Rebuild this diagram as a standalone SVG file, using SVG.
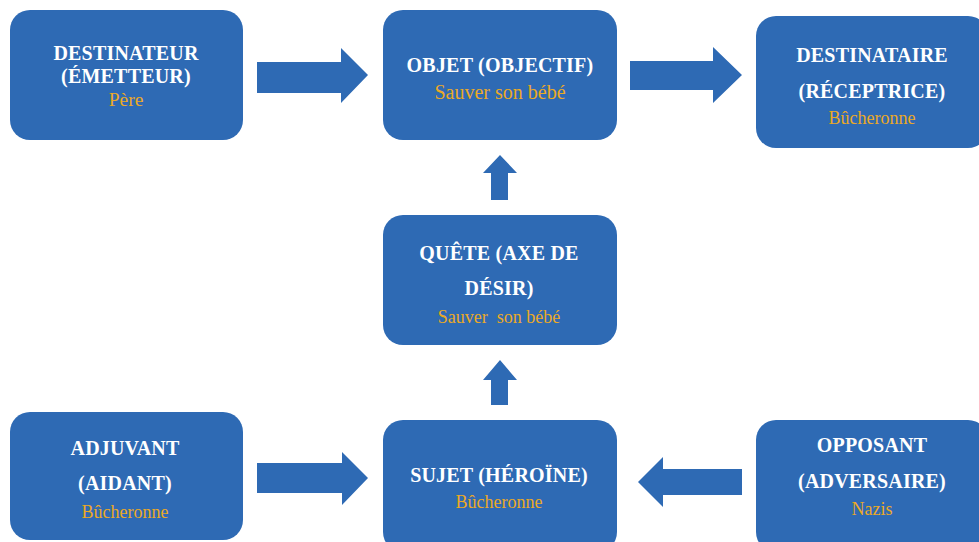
<svg xmlns="http://www.w3.org/2000/svg" width="979" height="542" viewBox="0 0 979 542">
<style>
.box{fill:#2E6AB4;}
.arr{fill:#2E6AB4;}
.t{font-family:"Liberation Serif","Times New Roman",serif;font-weight:bold;fill:#FFFFFF;text-anchor:middle;font-size:20px;letter-spacing:0.2px;}
.s{font-family:"Liberation Serif","Times New Roman",serif;fill:#EBA925;text-anchor:middle;font-size:18px;}
</style>
<rect width="979" height="542" fill="#FFFFFF"/>
<g id="connectors">
<polygon class="arr" points="257,62 341,62 341,48 368,75 341,103 341,93 257,93"/>
<polygon class="arr" points="630,61 713,61 713,47 742,75 713,103 713,90 630,90"/>
<polygon class="arr" points="257,463 342,463 342,452 368,478 342,505 342,493 257,493"/>
<polygon class="arr" points="742,469 663,469 663,457 638,482 663,507 663,495 742,495"/>
<polygon class="arr" points="491,200 491,173 483,173 500,155 517,173 508,173 508,200"/>
<polygon class="arr" points="491,405 491,380 483,380 500,360 517,380 508,380 508,405"/>
</g>
<g id="destinateur">
<rect class="box" x="10" y="10" width="233" height="130" rx="20"/>
<text class="t" x="126" y="60">DESTINATEUR</text>
<text class="t" x="126" y="83">(ÉMETTEUR)</text>
<text class="s" x="126" y="106" style="font-size:19.5px">Père</text>
</g>
<g id="objet">
<rect class="box" x="383" y="10" width="234" height="130" rx="20"/>
<text class="t" x="500" y="72">OBJET (OBJECTIF)</text>
<text class="s" x="500" y="99" style="font-size:20px">Sauver son bébé</text>
</g>
<g id="destinataire">
<rect class="box" x="756" y="16" width="232" height="132" rx="20"/>
<text class="t" x="872" y="62">DESTINATAIRE</text>
<text class="t" x="872" y="98">(RÉCEPTRICE)</text>
<text class="s" x="872" y="124">Bûcheronne</text>
</g>
<g id="quete">
<rect class="box" x="383" y="215" width="234" height="130" rx="20"/>
<text class="t" x="499" y="260">QUÊTE (AXE DE</text>
<text class="t" x="499" y="295">DÉSIR)</text>
<text class="s" x="499" y="323" style="white-space:pre">Sauver  son bébé</text>
</g>
<g id="adjuvant">
<rect class="box" x="10" y="412" width="233" height="128" rx="20"/>
<text class="t" x="125" y="455">ADJUVANT</text>
<text class="t" x="125" y="490">(AIDANT)</text>
<text class="s" x="125" y="518">Bûcheronne</text>
</g>
<g id="sujet">
<rect class="box" x="383" y="420" width="234" height="132" rx="20"/>
<text class="t" x="499" y="482">SUJET (HÉROÏNE)</text>
<text class="s" x="499" y="508">Bûcheronne</text>
</g>
<g id="opposant">
<rect class="box" x="756" y="420" width="232" height="132" rx="20"/>
<text class="t" x="872" y="452">OPPOSANT</text>
<text class="t" x="872" y="488">(ADVERSAIRE)</text>
<text class="s" x="872" y="515">Nazis</text>
</g>
</svg>
